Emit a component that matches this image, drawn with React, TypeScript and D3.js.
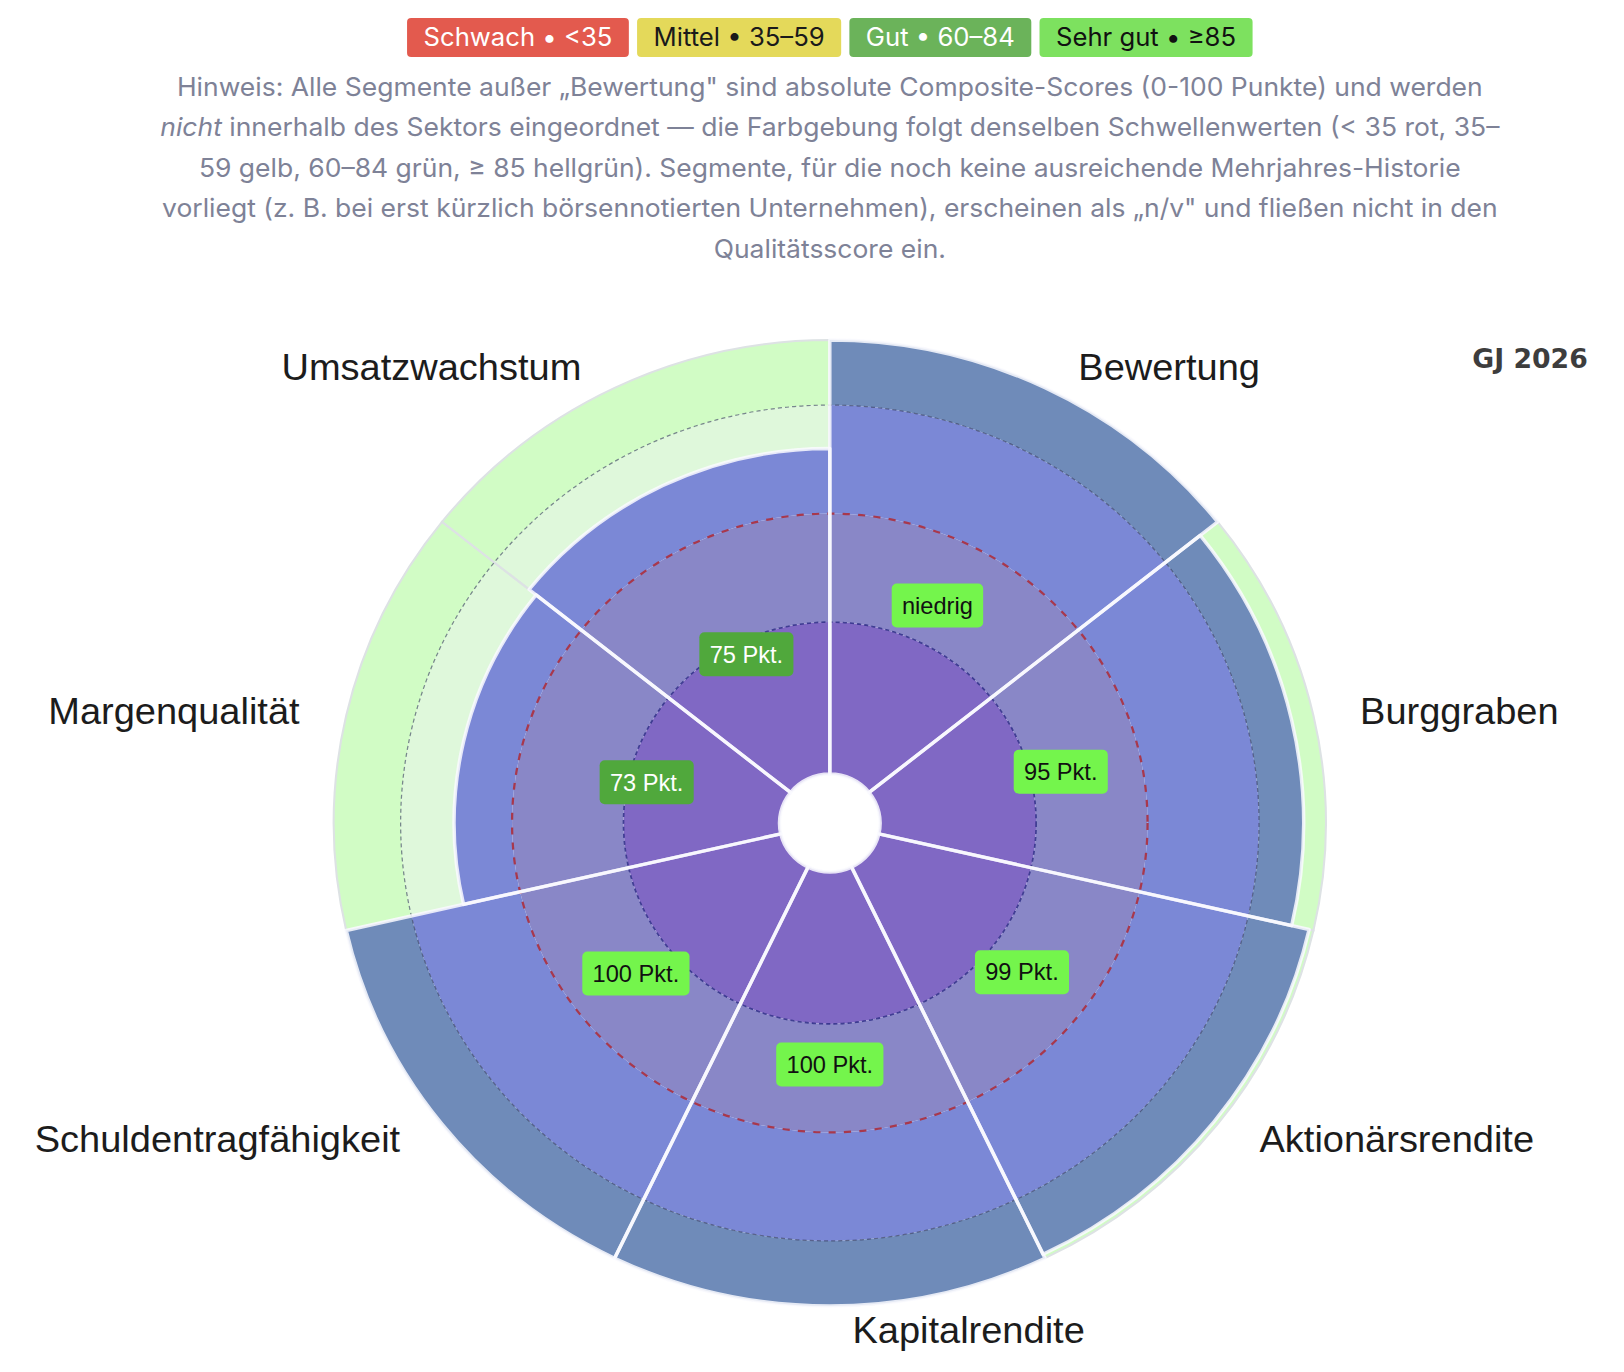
import { useMemo } from 'react';
import * as d3 from 'd3';

// ---- data ----
const categories = [
  'Bewertung',
  'Burggraben',
  'Aktionärsrendite',
  'Kapitalrendite',
  'Schuldentragfähigkeit',
  'Margenqualität',
  'Umsatzwachstum',
];
const scores = [100, 95, 99, 100, 100, 73, 75];
const scoreLabels = ['niedrig', '95 Pkt.', '99 Pkt.', '100 Pkt.', '100 Pkt.', '73 Pkt.', '75 Pkt.'];

const zoneBreaks = [0, 35, 60, 85, 100];
const thresholds = [35, 60, 85];

const legendLabels = ['Schwach • <35', 'Mittel • 35–59', 'Gut • 60–84', 'Sehr gut • ≥85'];
const legendBands = ['schwach', 'mittel', 'gut', 'sehrgut'];

const noteLines = [
  'Hinweis: Alle Segmente außer „Bewertung" sind absolute Composite-Scores (0-100 Punkte) und werden',
  'nicht| innerhalb des Sektors eingeordnet — die Farbgebung folgt denselben Schwellenwerten (< 35 rot, 35–',
  '59 gelb, 60–84 grün, ≥ 85 hellgrün). Segmente, für die noch keine ausreichende Mehrjahres-Historie',
  'vorliegt (z. B. bei erst kürzlich börsennotierten Unternehmen), erscheinen als „n/v" und fließen nicht in den',
  'Qualitätsscore ein.',
];
const yearLabel = 'GJ 2026';

// ---- layout / style ----
const W = 1624;
const H = 1372;
const SX = 1.027; // the reference is drawn a touch wider than tall
const CX = 808;
const CY = 823;
const R_IN = 49;
const R_OUT = 483;

const UI_FONT = 'Inter, "Noto Sans", sans-serif';
const CHART_FONT = '"Liberation Sans", Arial, sans-serif';

const BAND_FILL: Record<string, string> = {
  schwach: '#e35a4e',
  mittel: '#e4d95a',
  gut: '#6bb35a',
  sehrgut: '#7de15f',
};
const BAND_TEXT: Record<string, string> = {
  schwach: '#ffffff',
  mittel: '#1a1a1a',
  gut: '#ffffff',
  sehrgut: '#111111',
};
const BADGE_FILL: Record<string, string> = {
  schwach: '#e0473a',
  mittel: '#e3d33c',
  gut: '#50a83c',
  sehrgut: '#74f54c',
};
// fill of each score zone (0-35, 35-60, 60-85, 85-100) under a bar / under the empty rest
const BAR_ZONE = ['#8068c4', '#8987c7', '#7b88d6', '#6f8bb9'];
const BG_ZONE = ['#e4f3e1', '#e1f6de', '#dff8db', '#d1fcc5'];
const RING_STYLE = [
  { stroke: 'rgba(40, 40, 130, 0.8)', width: 1.6, dash: '4 3' },
  { stroke: '#a8384c', width: 2.2, dash: '7 8' },
  { stroke: 'rgba(50, 55, 90, 0.6)', width: 1.2, dash: '4 3' },
];

const bandOf = (v: number) => (v < 35 ? 'schwach' : v < 60 ? 'mittel' : v < 85 ? 'gut' : 'sehrgut');

const measureCtx = document.createElement('canvas').getContext('2d')!;
function textWidth(s: string, font: string) {
  measureCtx.font = font;
  return measureCtx.measureText(s).width;
}

interface Piece {
  inner: number;
  outer: number;
  start: number;
  end: number;
}

export default function App() {
  const r = useMemo(() => d3.scaleLinear().domain([0, 100]).range([R_IN, R_OUT]), []);
  const step = (2 * Math.PI) / categories.length;

  const arc = d3
    .arc<Piece>()
    .innerRadius((d) => d.inner)
    .outerRadius((d) => d.outer)
    .startAngle((d) => d.start)
    .endAngle((d) => d.end);

  const sectors = categories.map((name, i) => {
    const v = scores[i];
    const start = i * step;
    const end = (i + 1) * step;
    const bar: { d: Piece; fill: string }[] = [];
    const rest: { d: Piece; fill: string }[] = [];
    for (let z = 0; z < zoneBreaks.length - 1; z++) {
      const lo = zoneBreaks[z];
      const hi = zoneBreaks[z + 1];
      if (v > lo) bar.push({ d: { inner: r(lo), outer: r(Math.min(hi, v)), start, end }, fill: BAR_ZONE[z] });
      if (hi > v) rest.push({ d: { inner: r(Math.max(lo, v)), outer: r(hi), start, end }, fill: BG_ZONE[z] });
    }
    return { name, v, start, end, mid: start + step / 2, bar, rest };
  });

  // legend chips
  const legendFont = `25px ${UI_FONT}`;
  const chipPad = 16;
  const chipGap = 8;
  const chipW = legendLabels.map((t) => textWidth(t, legendFont) + chipPad * 2);
  const totalW = d3.sum(chipW) + chipGap * (chipW.length - 1);
  let cursor = CX - totalW / 2;
  const chips = legendLabels.map((t, i) => {
    const x = cursor;
    cursor += chipW[i] + chipGap;
    return { t, x, w: chipW[i], band: legendBands[i] };
  });

  const badgeFont = `23px ${CHART_FONT}`;

  return (
    <svg
      width={W}
      height={H}
      style={{ position: 'absolute', left: 0, top: 0, background: '#fff' }}
    >
      <g transform={`scale(${SX},1)`}>
        {/* legend */}
        {chips.map((c) => (
          <g key={c.t}>
            <rect x={c.x} y={18} width={c.w} height={39} rx={4} fill={BAND_FILL[c.band]} />
            <text
              x={c.x + c.w / 2}
              y={37.5}
              dy="0.36em"
              textAnchor="middle"
              fontSize={25}
              fontFamily={UI_FONT}
              fill={BAND_TEXT[c.band]}
            >
              {c.t}
            </text>
          </g>
        ))}

        {/* note */}
        {noteLines.map((line, i) => {
          const [a, b] = line.split('|');
          return (
            <text
              key={i}
              x={CX}
              y={96 + i * 40.4}
              textAnchor="middle"
              fontSize={25.8}
              fontFamily={UI_FONT}
              fill="#7e8297"
            >
              {b !== undefined ? (
                <>
                  <tspan fontStyle="italic">{a}</tspan>
                  {b}
                </>
              ) : (
                a
              )}
            </text>
          );
        })}

        <text
          x={1546}
          y={368}
          textAnchor="end"
          fontSize={26}
          fontWeight={700}
          fontFamily='"DejaVu Sans", sans-serif'
          fill="#3d3d3d"
        >
          {yearLabel}
        </text>

        <g transform={`translate(${CX},${CY})`}>
          {/* empty rest of each sector */}
          {sectors.map((s) =>
            s.rest.map((p, k) => <path key={`${s.name}-r${k}`} d={arc(p.d) ?? undefined} fill={p.fill} />)
          )}
          {sectors.map((s) => (
            <path
              key={`${s.name}-bg`}
              d={arc({ inner: r(0), outer: r(100), start: s.start, end: s.end }) ?? undefined}
              fill="none"
              stroke="#dde2e4"
              strokeWidth={2}
            />
          ))}

          {/* bars, coloured by score zone */}
          {sectors.map((s) =>
            s.bar.map((p, k) => <path key={`${s.name}-b${k}`} d={arc(p.d) ?? undefined} fill={p.fill} />)
          )}

          {/* threshold rings */}
          {thresholds.map((t, i) => (
            <circle
              key={t}
              r={r(t)}
              fill="none"
              stroke={RING_STYLE[i].stroke}
              strokeWidth={RING_STYLE[i].width}
              strokeDasharray={RING_STYLE[i].dash}
            />
          ))}

          {/* bar outlines */}
          {sectors.map((s) => (
            <path
              key={`${s.name}-ol`}
              d={arc({ inner: r(0), outer: r(s.v), start: s.start, end: s.end }) ?? undefined}
              fill="none"
              stroke="rgba(250,250,255,0.85)"
              strokeWidth={3.4}
              strokeLinejoin="round"
            />
          ))}

          {/* value badges */}
          {sectors.map((s, i) => {
            const label = scoreLabels[i];
            const band = bandOf(s.v);
            const rr = r(s.v) / 2;
            const x = rr * Math.sin(s.mid);
            const y = -rr * Math.cos(s.mid);
            const w = textWidth(label, badgeFont) + 20;
            const h = 44;
            return (
              <g key={`${s.name}-lbl`}>
                <rect x={x - w / 2} y={y - h / 2} width={w} height={h} rx={5} fill={BADGE_FILL[band]} />
                <text
                  x={x}
                  y={y}
                  dy="0.36em"
                  textAnchor="middle"
                  fontSize={23}
                  fontFamily={CHART_FONT}
                  fill={band === 'gut' ? '#ffffff' : '#111111'}
                >
                  {label}
                </text>
              </g>
            );
          })}

          {/* category labels */}
          {sectors.map((s) => {
            const L = 507;
            const sin = Math.sin(s.mid);
            const right = sin >= 0;
            const x = L * sin + (right ? 22 : -22);
            const y = -L * Math.cos(s.mid);
            return (
              <text
                key={`${s.name}-cat`}
                x={x}
                y={y}
                dy="0.36em"
                textAnchor={right ? 'start' : 'end'}
                fontSize={37}
                fontFamily={CHART_FONT}
                fill="#1c1c1c"
              >
                {s.name}
              </text>
            );
          })}
        </g>
      </g>
    </svg>
  );
}
